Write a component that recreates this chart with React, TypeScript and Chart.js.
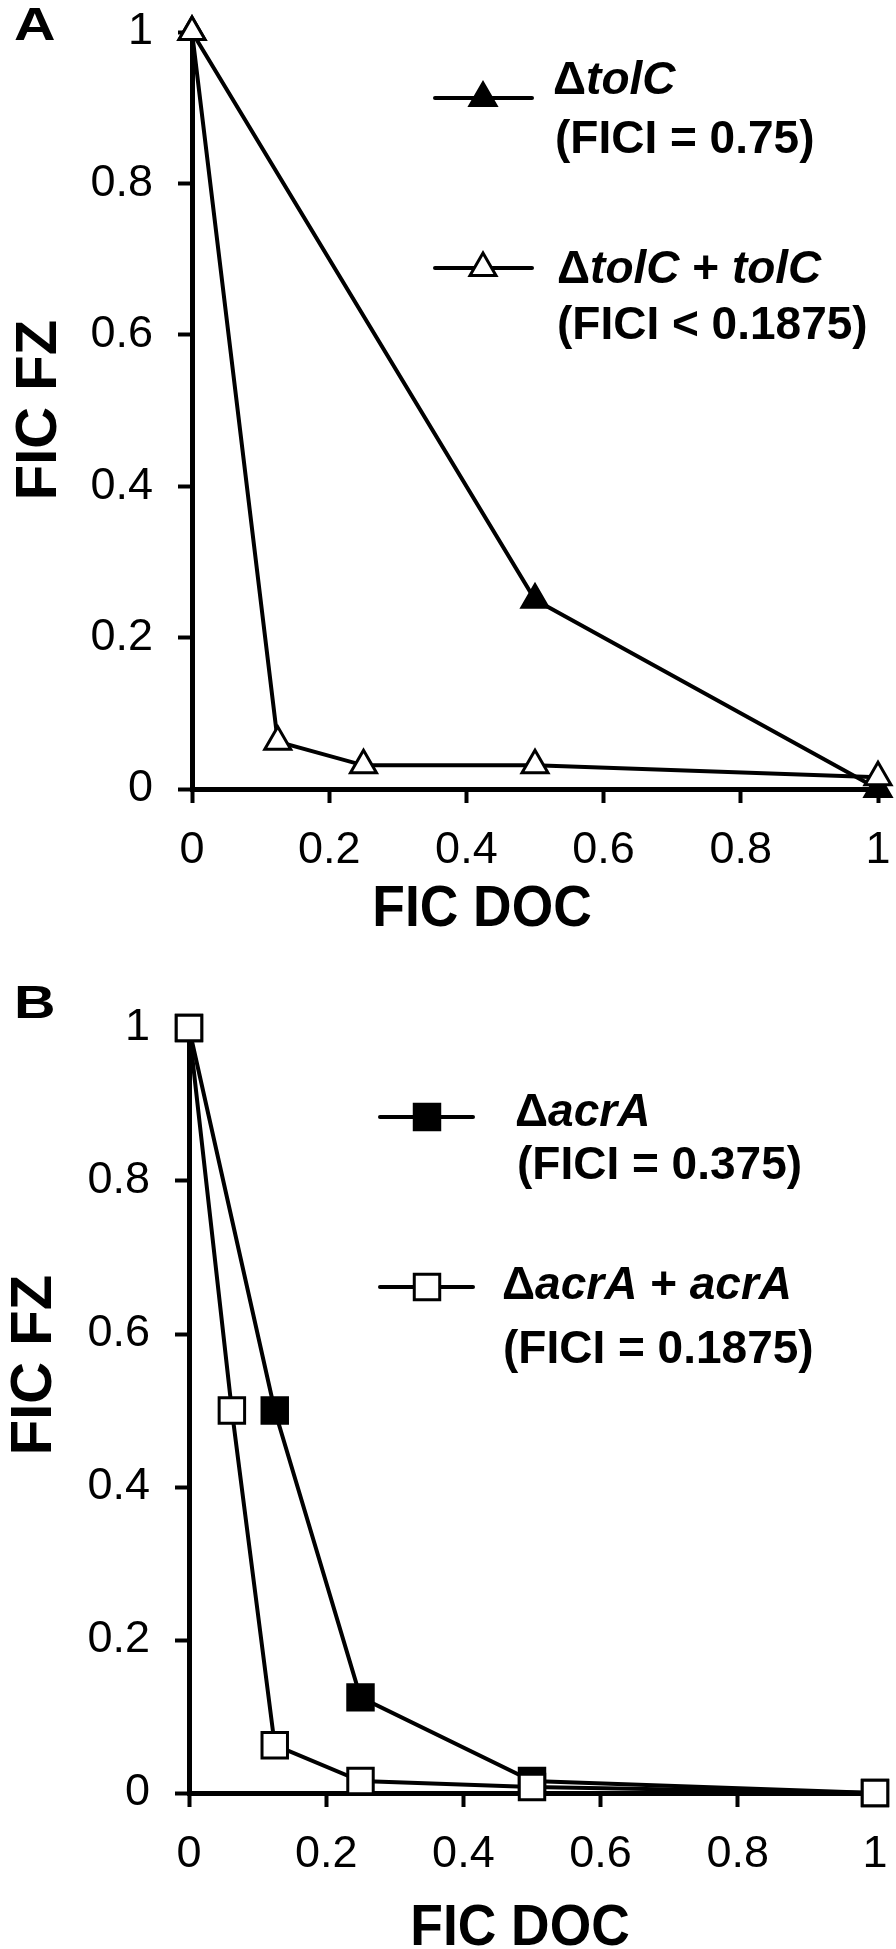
import React, { useEffect, useRef } from 'react';
import { Chart, registerables } from 'chart.js';

Chart.register(...registerables);

// ---- data ----
const tickValues = [0, 0.2, 0.4, 0.6, 0.8, 1];
const tickLabels = ['0', '0.2', '0.4', '0.6', '0.8', '1'];

// Panel A
const tolC_doc = [0, 0.5, 1];
const tolC_fz = [1, 0.25, 0];
const tolCComp_doc = [0, 0.125, 0.25, 0.5, 1];
const tolCComp_fz = [1, 0.0625, 0.03125, 0.03125, 0.015625];

// Panel B
const acrA_doc = [0, 0.125, 0.25, 0.5, 1];
const acrA_fz = [1, 0.5, 0.125, 0.015625, 0];
const acrAComp_doc = [0, 0.0625, 0.125, 0.25, 0.5, 1];
const acrAComp_fz = [1, 0.5, 0.0625, 0.015625, 0.0078125, 0];

const xTitle = 'FIC DOC';
const yTitle = 'FIC FZ';

const FONT = '"Liberation Sans", Arial, Helvetica, sans-serif';

type Seg = { t: string; i?: boolean };
type TextItem = { text: string; x: number; y: number; size: number; align?: CanvasTextAlign; rotate?: number; sx?: number };
type LegendLine = { x: number; y: number; segs: Seg[] };
type LegendItem = { x1: number; x2: number; y: number; mx: number; style: 'triangle' | 'rect'; r: number; fill: string; lines: LegendLine[] };

function toPoints(xs: number[], ys: number[]) {
  return xs.map((x, i) => ({ x, y: ys[i] }));
}

function drawMarker(ctx: CanvasRenderingContext2D, style: string, x: number, y: number, r: number, fill: string) {
  ctx.beginPath();
  if (style === 'triangle') {
    let a = 0;
    ctx.moveTo(x + Math.sin(a) * r, y - Math.cos(a) * r);
    a += (2 * Math.PI) / 3;
    ctx.lineTo(x + Math.sin(a) * r, y - Math.cos(a) * r);
    a += (2 * Math.PI) / 3;
    ctx.lineTo(x + Math.sin(a) * r, y - Math.cos(a) * r);
    ctx.closePath();
  } else {
    const s = Math.SQRT1_2 * r;
    ctx.rect(x - s, y - s, 2 * s, 2 * s);
  }
  ctx.fillStyle = fill;
  ctx.fill();
  ctx.lineWidth = 3;
  ctx.strokeStyle = '#000';
  ctx.stroke();
}

function makeOverlay(texts: TextItem[], legend: LegendItem[]) {
  return {
    id: 'overlay',
    afterDraw(chart: any) {
      const ctx: CanvasRenderingContext2D = chart.ctx;
      ctx.save();
      ctx.fillStyle = '#000';
      for (const t of texts) {
        ctx.save();
        ctx.translate(t.x, t.y);
        if (t.rotate) ctx.rotate(t.rotate);
        if (t.sx) ctx.scale(t.sx, 1);
        ctx.font = `bold ${t.size}px ${FONT}`;
        ctx.textAlign = t.align || 'center';
        ctx.textBaseline = 'alphabetic';
        ctx.fillStyle = '#000';
        ctx.fillText(t.text, 0, 0.358 * t.size);
        ctx.restore();
      }
      const LS = 46;
      for (const l of legend) {
        ctx.beginPath();
        ctx.moveTo(l.x1, l.y);
        ctx.lineTo(l.x2, l.y);
        ctx.lineWidth = 4;
        ctx.lineCap = 'round';
        ctx.strokeStyle = '#000';
        ctx.stroke();
        drawMarker(ctx, l.style, l.mx, l.y, l.r, l.fill);
        for (const line of l.lines) {
          let cx = line.x;
          ctx.textAlign = 'left';
          ctx.textBaseline = 'alphabetic';
          ctx.fillStyle = '#000';
          for (const s of line.segs) {
            ctx.font = `${s.i ? 'italic ' : ''}bold ${LS}px ${FONT}`;
            ctx.fillText(s.t, cx, line.y + 0.358 * LS);
            cx += ctx.measureText(s.t).width;
          }
        }
      }
      ctx.restore();
    },
  };
}

type PanelCfg = {
  height: number;
  padding: { left: number; right: number; top: number; bottom: number };
  yWidth: number;
  xHeight: number;
  datasets: any[];
  texts: TextItem[];
  legend: LegendItem[];
};

function Panel({ cfg }: { cfg: PanelCfg }) {
  const ref = useRef<HTMLCanvasElement>(null);
  useEffect(() => {
    const tickFont = { family: FONT, size: 45 };
    const grid = { drawOnChartArea: false, drawTicks: true, tickLength: 14, tickWidth: 4, color: '#000' };
    const border = { display: true, color: '#000', width: 5 };
    const chart = new Chart(ref.current!, {
      type: 'scatter',
      data: { datasets: cfg.datasets },
      options: {
        responsive: false,
        animation: false,
        layout: { padding: cfg.padding },
        plugins: { legend: { display: false }, tooltip: { enabled: false }, title: { display: false } },
        scales: {
          x: {
            type: 'linear',
            min: 0,
            max: 1,
            afterBuildTicks: (s: any) => { s.ticks = tickValues.map((v) => ({ value: v })); },
            afterFit: (s: any) => { s.height = cfg.xHeight; s.paddingLeft = 0; s.paddingRight = 0; },
            ticks: { callback: (_v: any, i: number) => tickLabels[i], font: tickFont, color: '#000', padding: 21, maxRotation: 0, autoSkip: false },
            grid,
            border,
          },
          y: {
            type: 'linear',
            min: 0,
            max: 1,
            afterBuildTicks: (s: any) => { s.ticks = tickValues.map((v) => ({ value: v })); },
            afterFit: (s: any) => { s.width = cfg.yWidth; s.paddingTop = 0; s.paddingBottom = 0; },
            ticks: { callback: (_v: any, i: number) => tickLabels[i], font: tickFont, color: '#000', padding: 25, autoSkip: false },
            grid,
            border,
          },
        },
      } as any,
      plugins: [makeOverlay(cfg.texts, cfg.legend)],
    });
    return () => chart.destroy();
  }, []);
  return <canvas ref={ref} width={896} height={cfg.height} style={{ display: 'block', width: 896, height: cfg.height }} />;
}

const lineBase = { showLine: true, borderColor: '#000', borderWidth: 4, pointBorderColor: '#000', pointBorderWidth: 3, clip: false, tension: 0 };

const panelA: PanelCfg = {
  height: 980,
  padding: { left: 0, right: 14, top: 32, bottom: 0 },
  yWidth: 192,
  xHeight: 980 - 789,
  datasets: [
    { ...lineBase, label: 'ΔtolC + tolC', data: toPoints(tolCComp_doc, tolCComp_fz), pointStyle: 'triangle', pointRadius: 15, pointBackgroundColor: '#fff' },
    { ...lineBase, label: 'ΔtolC', data: toPoints(tolC_doc, tolC_fz), pointStyle: 'triangle', pointRadius: 15, pointBackgroundColor: '#000' },
  ],
  texts: [
    { text: 'A', x: 14, y: 24, size: 46, align: 'left', sx: 1.25 },
    { text: xTitle, x: 482, y: 905, size: 58, sx: 0.92 },
    { text: yTitle, x: 35, y: 410, size: 58, rotate: -Math.PI / 2 },
  ],
  legend: [
    { x1: 435, x2: 532, y: 98, mx: 483, style: 'triangle', r: 15, fill: '#000', lines: [
      { x: 553, y: 78, segs: [{ t: 'Δ' }, { t: 'tolC', i: true }] },
      { x: 555, y: 137, segs: [{ t: '(FICI = 0.75)' }] },
    ] },
    { x1: 435, x2: 532, y: 268, mx: 483, style: 'triangle', r: 15, fill: '#fff', lines: [
      { x: 557, y: 267, segs: [{ t: 'Δ' }, { t: 'tolC', i: true }, { t: ' + ' }, { t: 'tolC', i: true }] },
      { x: 557, y: 323, segs: [{ t: '(FICI < 0.1875)' }] },
    ] },
  ],
};

const panelB: PanelCfg = {
  height: 969,
  padding: { left: 0, right: 17, top: 48, bottom: 0 },
  yWidth: 189,
  xHeight: 969 - 813,
  datasets: [
    { ...lineBase, label: 'ΔacrA + acrA', data: toPoints(acrAComp_doc, acrAComp_fz), pointStyle: 'rect', pointRadius: 18, pointBackgroundColor: '#fff' },
    { ...lineBase, label: 'ΔacrA', data: toPoints(acrA_doc, acrA_fz), pointStyle: 'rect', pointRadius: 18, pointBackgroundColor: '#000' },
  ],
  texts: [
    { text: 'B', x: 14, y: 22, size: 46, align: 'left', sx: 1.25 },
    { text: xTitle, x: 520, y: 944, size: 58, sx: 0.92 },
    { text: yTitle, x: 30, y: 385, size: 58, rotate: -Math.PI / 2 },
  ],
  legend: [
    { x1: 380, x2: 473, y: 137, mx: 427, style: 'rect', r: 18, fill: '#000', lines: [
      { x: 515, y: 130, segs: [{ t: 'Δ' }, { t: 'acrA', i: true }] },
      { x: 517, y: 183, segs: [{ t: '(FICI = 0.375)' }] },
    ] },
    { x1: 380, x2: 473, y: 307, mx: 427, style: 'rect', r: 18, fill: '#fff', lines: [
      { x: 502, y: 303, segs: [{ t: 'Δ' }, { t: 'acrA', i: true }, { t: ' + ' }, { t: 'acrA', i: true }] },
      { x: 503, y: 367, segs: [{ t: '(FICI = 0.1875)' }] },
    ] },
  ],
};

export default function App() {
  return (
    <div style={{ position: 'absolute', left: 0, top: 0, width: 896, background: '#fff' }}>
      <Panel cfg={panelA} />
      <Panel cfg={panelB} />
    </div>
  );
}
